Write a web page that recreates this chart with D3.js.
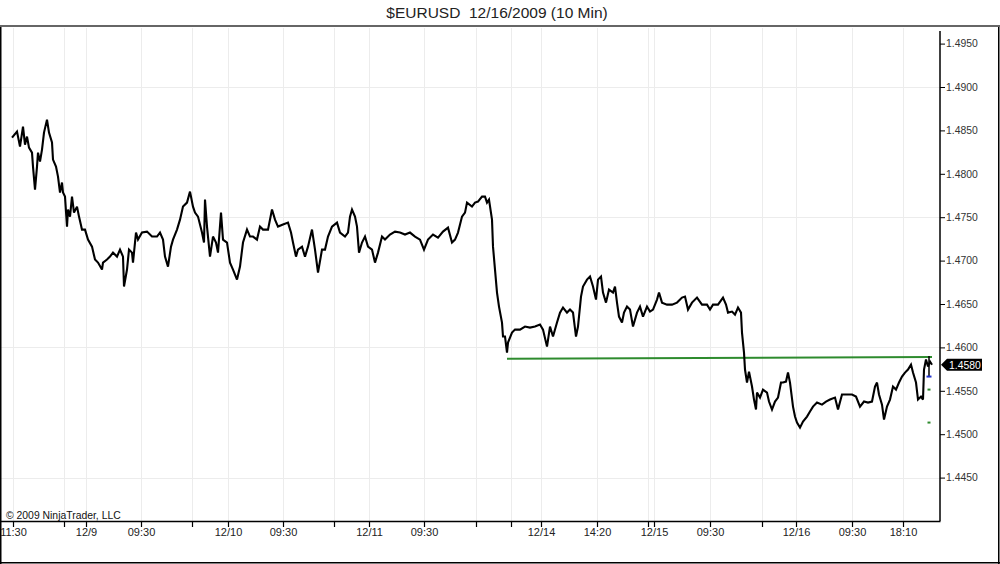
<!DOCTYPE html>
<html><head><meta charset="utf-8">
<script src="https://cdn.jsdelivr.net/npm/d3@7"></script>
<style>html,body{margin:0;padding:0;background:#fff;}svg{display:block;}</style>
</head><body>
<script>
// ---- data ----
const title = "$EURUSD  12/16/2009 (10 Min)";
const copyright = "\u00A9 2009 NinjaTrader, LLC";
const barIdx = [0,5,8,11,13,15,17,20,21,23,25,26,28,30,32,35,37,40,41,44,46,48,50,51,53,55,56,58,60,62,65,67,70,73,76,80,83,86,90,91,95,98,101,105,108,111,112,115,117,120,121,124,126,130,135,140,145,148,151,153,156,159,161,165,168,171,175,178,181,183,186,190,192,193,195,198,201,204,206,209,211,215,218,221,225,228,231,235,238,241,245,248,251,256,260,263,266,271,276,279,281,284,286,290,293,296,300,303,306,310,313,316,320,325,328,333,336,338,340,343,345,347,350,353,356,360,363,366,370,373,378,383,388,393,398,403,408,412,416,421,426,431,436,440,443,446,450,453,455,460,463,466,470,473,475,477,480,481,483,485,487,490,491,493,495,496,500,503,508,513,518,523,528,531,535,538,541,545,548,551,555,558,561,564,566,569,571,575,578,581,584,586,589,591,594,597,601,603,605,607,610,612,615,618,621,625,628,631,635,638,641,645,647,650,655,660,665,670,673,676,680,685,690,695,698,701,706,711,714,716,720,723,726,729,730,732,733,735,737,740,742,744,745,748,751,755,757,760,763,766,769,771,774,776,778,781,783,785,788,791,795,798,801,805,810,814,818,823,826,830,834,840,844,848,852,856,860,863,865,867,870,872,875,878,881,884,887,890,893,896,899,901,904,906,909,911,912,914,916,918,920];
const closes = [1.48417,1.48486,1.48313,1.48544,1.48336,1.48429,1.48302,1.48244,1.48083,1.47818,1.48083,1.48244,1.48141,1.48279,1.48475,1.48624,1.48475,1.4836,1.48164,1.48083,1.47968,1.47784,1.47899,1.47784,1.47737,1.47392,1.47588,1.47507,1.47737,1.47553,1.47622,1.47507,1.47357,1.47357,1.47242,1.47161,1.47012,1.46977,1.46897,1.46977,1.47012,1.47046,1.47092,1.47046,1.47127,1.47046,1.46701,1.46897,1.47127,1.47092,1.46977,1.47323,1.47242,1.47323,1.47334,1.47277,1.47277,1.47323,1.47242,1.47046,1.46931,1.47161,1.47242,1.47357,1.47472,1.47622,1.47668,1.47795,1.47622,1.47553,1.47507,1.47323,1.47208,1.47703,1.47392,1.47046,1.47277,1.47208,1.47092,1.47553,1.47242,1.47208,1.46977,1.46897,1.46781,1.46931,1.47208,1.47357,1.47277,1.47277,1.47242,1.47392,1.47357,1.47357,1.47588,1.47472,1.47392,1.47415,1.47438,1.47323,1.47208,1.47046,1.47127,1.47161,1.47046,1.47161,1.47357,1.47127,1.46862,1.47127,1.47127,1.47277,1.47392,1.47438,1.47323,1.47277,1.47323,1.47507,1.47588,1.47507,1.47392,1.47092,1.47208,1.47277,1.47161,1.47127,1.46977,1.47092,1.47277,1.47242,1.473,1.47334,1.47323,1.473,1.47323,1.47277,1.47242,1.47127,1.47242,1.473,1.47265,1.47334,1.4738,1.47208,1.47242,1.47323,1.47507,1.47553,1.47668,1.47622,1.47668,1.4768,1.47737,1.47737,1.47668,1.47703,1.47472,1.47161,1.46897,1.46632,1.4647,1.46286,1.46125,1.46125,1.4594,1.46056,1.46171,1.46205,1.46205,1.4624,1.46228,1.4624,1.46263,1.46205,1.46009,1.4624,1.46125,1.46286,1.46401,1.46459,1.46401,1.46436,1.46401,1.46125,1.4624,1.46585,1.46701,1.46781,1.46816,1.46701,1.46551,1.46781,1.46816,1.46632,1.46516,1.46666,1.46632,1.46701,1.46516,1.46355,1.46286,1.46401,1.4647,1.46436,1.4624,1.46401,1.4647,1.46355,1.4647,1.46413,1.46436,1.46551,1.46632,1.46516,1.46493,1.46493,1.46516,1.46574,1.46585,1.46436,1.46516,1.46574,1.46493,1.46493,1.46436,1.46493,1.46493,1.46574,1.46493,1.46401,1.46413,1.46378,1.46459,1.46401,1.46171,1.4594,1.45745,1.45595,1.45721,1.45549,1.45399,1.45284,1.4548,1.45422,1.45514,1.4548,1.45376,1.45284,1.45376,1.45422,1.45595,1.45595,1.45606,1.4571,1.45595,1.45318,1.45203,1.45134,1.45076,1.45145,1.45203,1.45261,1.45318,1.45364,1.45341,1.45376,1.45399,1.45422,1.45284,1.45457,1.45457,1.45457,1.45433,1.45318,1.45376,1.45364,1.45376,1.45549,1.45595,1.45457,1.45341,1.45169,1.45318,1.45399,1.45549,1.45514,1.45595,1.45664,1.4571,1.45745,1.45802,1.4571,1.45595,1.45399,1.45433,1.45399,1.45745,1.4586,1.45779,1.45837,1.4580];
const lastPrice = 1.4580;
const lastBarHigh = 1.4590, lastBarLow = 1.45664;
const trendBars = [495, 920];
const trendPrices = [1.4587, 1.4589];
const markerPrices = [1.45514, 1.45134];
const yTicks = [1.4450,1.4500,1.4550,1.4600,1.4650,1.4700,1.4750,1.4800,1.4850,1.4900,1.4950];
const yGrid = [1.4450,1.4600,1.4750,1.4900];
const tickBars = [1,52,74,129,180,216,271,322,357,412,464,499,529,585,636,642,698,750,784,840,891];
const tickLabels = ["11:30","","12/9","09:30","","12/10","09:30","","12/11","09:30","","","12/14","14:20","","12/15","09:30","","12/16","09:30","18:10"];

// ---- drawing ----
const W=1000,H=564;
const svg=d3.select("body").append("svg").attr("width",W).attr("height",H);
const FONT="'Liberation Sans', Arial, sans-serif";
const plotL=0, plotR=940, plotT=28, plotB=521;
const x=d3.scaleLinear().domain([-12,928]).range([plotL,plotR]);
const y=d3.scaleLinear().domain([1.44,1.44+493/8680]).range([plotB,plotT]);

svg.append("defs").append("clipPath").attr("id","clip").append("rect")
  .attr("x",plotL+1).attr("y",plotT).attr("width",plotR-plotL-1).attr("height",plotB-plotT);

// title
svg.append("text").attr("x",497).attr("y",18).attr("text-anchor","middle")
  .attr("font-family",FONT).attr("font-size",15.5).attr("fill","#222")
  .attr("xml:space","preserve").style("white-space","pre").text(title);
svg.append("line").attr("x1",0).attr("x2",W).attr("y1",26).attr("y2",26).attr("stroke","#666").attr("stroke-width",2);

// grid
const g=svg.append("g").attr("clip-path","url(#clip)");
g.selectAll("line.vg").data(tickBars).join("line").attr("class","vg")
  .attr("x1",d=>Math.round(x(d))+0.5).attr("x2",d=>Math.round(x(d))+0.5).attr("y1",plotT).attr("y2",plotB)
  .attr("stroke","#ececec").attr("stroke-width",1);
g.selectAll("line.hg").data(yGrid).join("line").attr("class","hg")
  .attr("x1",plotL).attr("x2",plotR).attr("y1",d=>Math.round(y(d))+0.5).attr("y2",d=>Math.round(y(d))+0.5)
  .attr("stroke","#ececec").attr("stroke-width",1);

// copyright
svg.append("text").attr("x",6).attr("y",518.5).attr("font-family",FONT).attr("font-size",10.4)
  .attr("fill","#111").text(copyright);

// trend line
g.append("line").attr("x1",x(trendBars[0])).attr("x2",x(trendBars[1]))
  .attr("y1",y(trendPrices[0])).attr("y2",y(trendPrices[1])).attr("stroke","#2e8b2e").attr("stroke-width",2);

// price line
const pts=barIdx.map((b,i)=>[b,closes[i]]);
g.append("path").datum(pts).attr("fill","none").attr("stroke","#000").attr("stroke-width",2.1)
  .attr("stroke-linejoin","miter").attr("stroke-miterlimit",3)
  .attr("d",d3.line().x(d=>x(d[0])).y(d=>y(d[1])));

// last bar details
const lb=barIdx[barIdx.length-1]-3;
g.append("line").attr("x1",x(lb)).attr("x2",x(lb)).attr("y1",y(lastBarHigh)).attr("y2",y(lastBarLow)).attr("stroke","#000").attr("stroke-width",1.5);
g.append("line").attr("x1",x(lb)-2.5).attr("x2",x(lb)+2.5).attr("y1",y(lastBarLow)).attr("y2",y(lastBarLow)).attr("stroke","#2233cc").attr("stroke-width",2);
g.selectAll("line.mk").data(markerPrices).join("line").attr("class","mk")
  .attr("x1",x(lb)-1.5).attr("x2",x(lb)+1.5).attr("y1",d=>y(d)).attr("y2",d=>y(d)).attr("stroke","#2e8b2e").attr("stroke-width",2);

// x axis
const xAxis=d3.axisBottom(x).tickValues(tickBars).tickFormat((d,i)=>tickLabels[i]).tickSize(6).tickSizeOuter(0);
const xa=svg.append("g").attr("transform",`translate(0,${plotB})`).call(xAxis);
xa.select(".domain").attr("stroke","#000").attr("stroke-width",1.5);
xa.selectAll(".tick line").attr("stroke","#000").attr("stroke-width",1.2);
xa.selectAll(".tick text").attr("font-family",FONT).attr("font-size",11).attr("fill","#222").attr("dy","0.5em").attr("y",9);

// y axis
const yAxis=d3.axisRight(y).tickValues(yTicks).tickFormat(d3.format(".4f")).tickSize(5).tickPadding(1).tickSizeOuter(0);
const ya=svg.append("g").attr("transform",`translate(${plotR},0)`).call(yAxis);
ya.select(".domain").attr("stroke","#000").attr("stroke-width",1.5).attr("d",`M0,${plotT+3}V${plotB}`);
ya.selectAll(".tick line").attr("stroke","#000").attr("stroke-width",1);
ya.selectAll(".tick text").attr("font-family",FONT).attr("font-size",10.4).attr("fill","#333");

// price tag
const py=y(lastPrice);
svg.append("path").attr("d",`M${plotR+1},${py} L${plotR+7},${py-6} H${plotR+42} V${py+6} H${plotR+7} Z`).attr("fill","#000");
svg.append("text").attr("x",plotR+9).attr("y",py).attr("dy","0.36em").attr("font-family",FONT).attr("font-size",10.4)
  .attr("fill","#fff").text(d3.format(".4f")(lastPrice));

// frame
svg.append("line").attr("x1",0.75).attr("x2",0.75).attr("y1",27).attr("y2",H).attr("stroke","#000").attr("stroke-width",1.5);
svg.append("line").attr("x1",W-1.25).attr("x2",W-1.25).attr("y1",27).attr("y2",H).attr("stroke","#000").attr("stroke-width",1.5);
svg.append("line").attr("x1",0).attr("x2",W).attr("y1",H-1.25).attr("y2",H-1.25).attr("stroke","#000").attr("stroke-width",1.5);
</script>
</body></html>
